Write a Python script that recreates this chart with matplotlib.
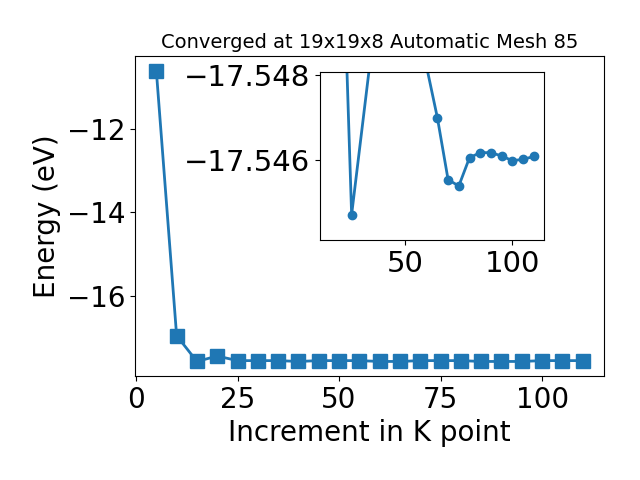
import numpy as np
import matplotlib
matplotlib.use("Agg")
from matplotlib import pyplot as plt

# K-point increments and total energies (eV)
kpoints = [5, 10, 15, 20, 25, 30, 35, 40, 45, 50, 55,
           60, 65, 70, 75, 80, 85, 90, 95, 100, 105, 110]
energy = [-10.59, -16.96, -17.58, -17.45, -17.56, -17.56, -17.56, -17.58,
          -17.56, -17.56, -17.56, -17.58, -17.58, -17.56, -17.56, -17.56,
          -17.58, -17.58, -17.58, -17.56, -17.56, -17.56]

# zoomed-in inset values
k_inset = [15, 25, 35, 60, 65, 70, 75, 80, 85, 90, 95, 100, 105, 110]
e_inset = [-17.5604, -17.5447, -17.5489, -17.5482, -17.5470, -17.54553,
           -17.54538, -17.54605, -17.54617, -17.54617, -17.54609,
           -17.54598, -17.54601, -17.54608]

fig = plt.figure(figsize=(6.4, 4.8), dpi=100)
ax = fig.add_subplot(111)
ax.plot(kpoints, energy, marker='s', markersize=10, linewidth=2)
ax.set_xlabel('Increment in K point', fontsize=20)
ax.set_ylabel('Energy (eV)', fontsize=20)
ax.set_title('Converged at 19x19x8 Automatic Mesh 85', fontsize=14)
ax.tick_params(labelsize=20)
fig.subplots_adjust(left=135 / 640, right=604 / 640,
                    top=1 - 56 / 480, bottom=1 - 376 / 480)

# inset
axin = fig.add_axes([0.5, 0.5, 0.35, 0.35])
axin.plot(k_inset, e_inset, marker='o', linewidth=2)
axin.set_ylim(-17.5441, -17.54808)
axin.set_yticks([-17.548, -17.546])
axin.ticklabel_format(useOffset=False)
axin.tick_params(labelsize=21)

fig.savefig('out.png')
